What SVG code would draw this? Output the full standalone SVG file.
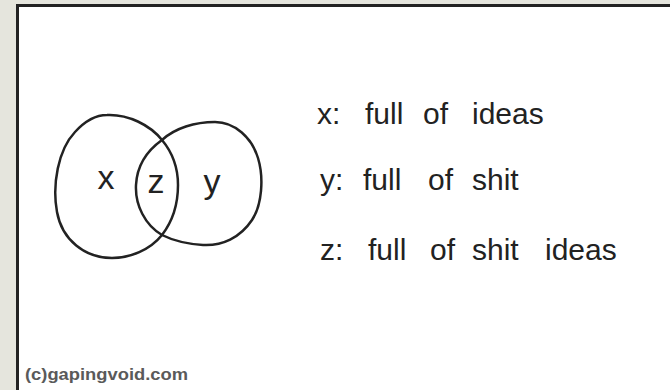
<svg xmlns="http://www.w3.org/2000/svg" width="670" height="390" viewBox="0 0 670 390">
<style>
.hand{font-family:"Liberation Sans","DejaVu Sans",sans-serif;fill:#222;font-size:30px}
.lbl{font-size:34px}
.venn{fill:none;stroke:#222;stroke-width:2.5;stroke-linejoin:round}
.foot{font-family:"Liberation Sans",Arial,sans-serif;font-weight:bold;font-size:16px;fill:#5a5a5a}
</style>
<rect x="0" y="0" width="670" height="390" fill="#e5e5dd"/>
<rect id="card" x="17.5" y="5.5" width="700" height="420" fill="#ffffff" stroke="#222" stroke-width="3"/>
<g id="connectors"></g>
<g id="set-x">
<path class="venn" d="M107,115 C128,114 150,125 162,140 C172,152 178,168 178,185 C178,205 172,222 162,235 C150,250 130,258 112,258 C85,258 62,240 57,212 C52,185 58,150 75,132 C85,121 96,115 107,115 Z"/>
<text class="hand lbl" x="106" y="189" text-anchor="middle">x</text>
</g>
<g id="set-y">
<path class="venn" d="M162,140 C175,128 195,122 215,122 C235,122 252,138 258,158 C264,178 262,205 252,220 C240,238 222,246 203,245 C188,244 172,240 162,235 C145,225 135,205 136,185 C137,165 148,150 162,140 Z"/>
<text class="hand lbl" x="212" y="193" text-anchor="middle">y</text>
</g>
<g id="set-z">
<text class="hand lbl" x="156" y="193" text-anchor="middle">z</text>
</g>
<g id="legend">
<text class="hand" y="124"><tspan x="317">x:</tspan><tspan x="365">full</tspan><tspan x="423">of</tspan><tspan x="472">ideas</tspan></text>
<text class="hand" y="190"><tspan x="320">y:</tspan><tspan x="363">full</tspan><tspan x="428">of</tspan><tspan x="472">shit</tspan></text>
<text class="hand" y="260"><tspan x="320">z:</tspan><tspan x="368">full</tspan><tspan x="430">of</tspan><tspan x="472">shit</tspan><tspan x="545">ideas</tspan></text>
</g>
<text class="foot" x="25" y="380" textLength="163" lengthAdjust="spacingAndGlyphs">(c)gapingvoid.com</text>
</svg>
